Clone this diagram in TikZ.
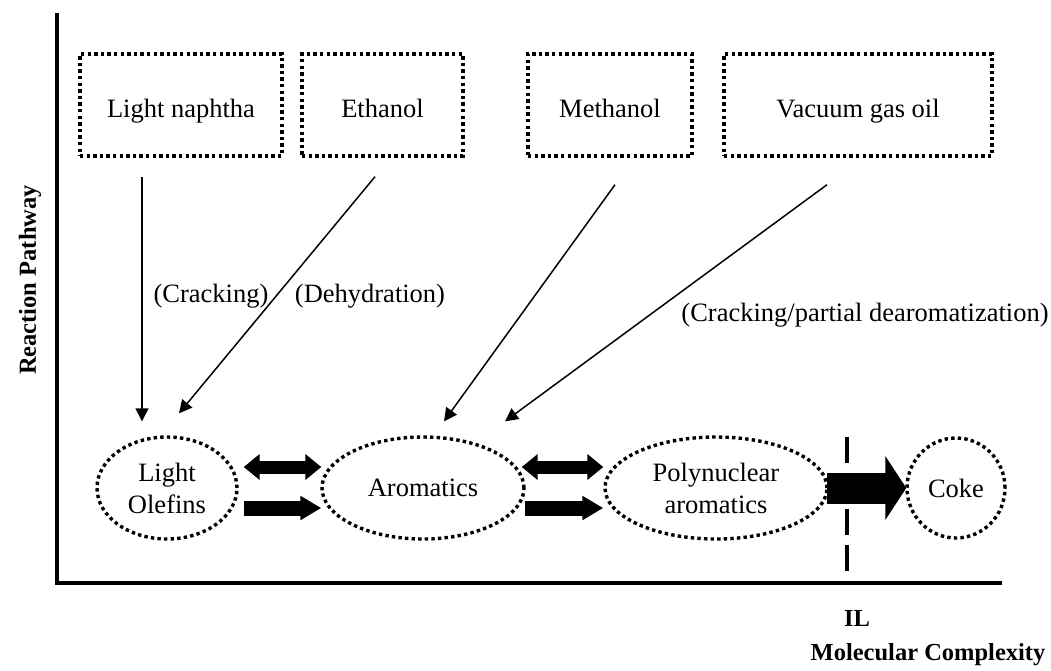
\documentclass[tikz,border=0pt]{standalone}
\usepackage{fontspec}
\setmainfont{Liberation Serif}
\usetikzlibrary{shapes.geometric,arrows.meta,calc}

\tikzset{
  dotline/.style={line width=3.4pt, dash pattern=on 3.4pt off 3.2pt},
  feedbox/.style={draw, dotline, rectangle, minimum height=102pt, inner sep=0pt,
    text height=24pt, text depth=0pt,
    font=\fontsize{26.5}{32}\selectfont},
  pool/.style={draw, dotline, ellipse, minimum height=102pt, inner sep=0pt,
    align=center, font=\fontsize{26.5}{32}\selectfont},
  feedarrow/.style={line width=1.5pt, -{Triangle[length=13pt,width=13pt]}},
  steplabel/.style={font=\fontsize{26.5}{32}\selectfont},
  axislabel/.style={font=\fontsize{24.5}{30}\selectfont\bfseries},
  twoway/.style={line width=13pt, {Triangle[length=16pt,width=25pt]}-{Triangle[length=16pt,width=25pt]}},
  oneway/.style={line width=15pt, -{Triangle[length=21pt,width=23pt]}},
  bigway/.style={line width=31pt, -{Triangle[length=21pt,width=63pt]}},
  axisline/.style={line width=4pt}
}

\begin{document}
\begin{tikzpicture}[x=1pt,y=-1pt]
\useasboundingbox (0,0) rectangle (1051,670);

% axes
\coordinate (origin) at (57,583);
\coordinate (ytop) at (57,15);
\coordinate (xend) at (1000,583);
\draw[axisline, line cap=rect] (ytop) -- (origin) -- (xend);

\node[axislabel, rotate=90] (ylab) at (30,280) {Reaction Pathway};
\node[axislabel] (xlab) at (928,655) {Molecular Complexity};
\node[axislabel] (il) at (857,618) {IL};

% feedstocks
\node[feedbox, minimum width=202pt] (ln) at (181,105) {Light naphtha};
\node[feedbox, minimum width=161pt] (et) at (382.5,105) {Ethanol};
\node[feedbox, minimum width=164pt] (me) at (610,105) {Methanol};
\node[feedbox, minimum width=268pt] (vg) at (858,105) {Vacuum gas oil};

% product pools
\node[pool, minimum width=140pt] (lo) at (167,488) {Light\\Olefins};
\node[pool, minimum width=202pt] (ar) at (423,488) {Aromatics};
\node[pool, minimum width=222pt] (pa) at (716,488) {Polynuclear\\aromatics};
\node[pool, minimum width=98pt, minimum height=100pt] (ck) at (956,488) {Coke};

% feed conversion routes
\draw[feedarrow] ($(ln.south)+(-39,19)$) -- ($(lo.north)+(-25,-14)$);
\draw[feedarrow] ($(et.south)+(-7.5,19)$) -- ($(lo.north)+(12,-22)$);
\draw[feedarrow] ($(me.south)+(5,27)$) -- ($(ar.north)+(21,-14)$);
\draw[feedarrow] ($(vg.south)+(-31,27)$) -- ($(ar.north)+(82,-14)$);

\node[steplabel] (crk) at (211,296) {(Cracking)};
\node[steplabel] (dhy) at (370,296) {(Dehydration)};
\node[steplabel] (cpd) at (865,315) {(Cracking/partial dearomatization)};

% limit line
\coordinate (iltop) at (847,437);
\coordinate (ilbot) at (847,583);
\draw[line width=4.5pt, dash pattern=on 26pt off 10pt] (iltop) -- (ilbot);

% interconversions
\draw[twoway] ($(lo.east)+(5,-21)$) -- ($(ar.west)+(1,-21)$);
\draw[oneway] ($(lo.east)+(5,20)$) -- ($(ar.west)+(1,20)$);
\draw[twoway] ($(ar.east)+(-4,-21)$) -- ($(pa.west)+(0,-21)$);
\draw[oneway] ($(ar.east)+(-1,20)$) -- ($(pa.west)+(0,20)$);
\draw[bigway] ($(pa.east)+(-2,0)$) -- ($(ck.west)+(1,0)$);
\end{tikzpicture}
\end{document}
